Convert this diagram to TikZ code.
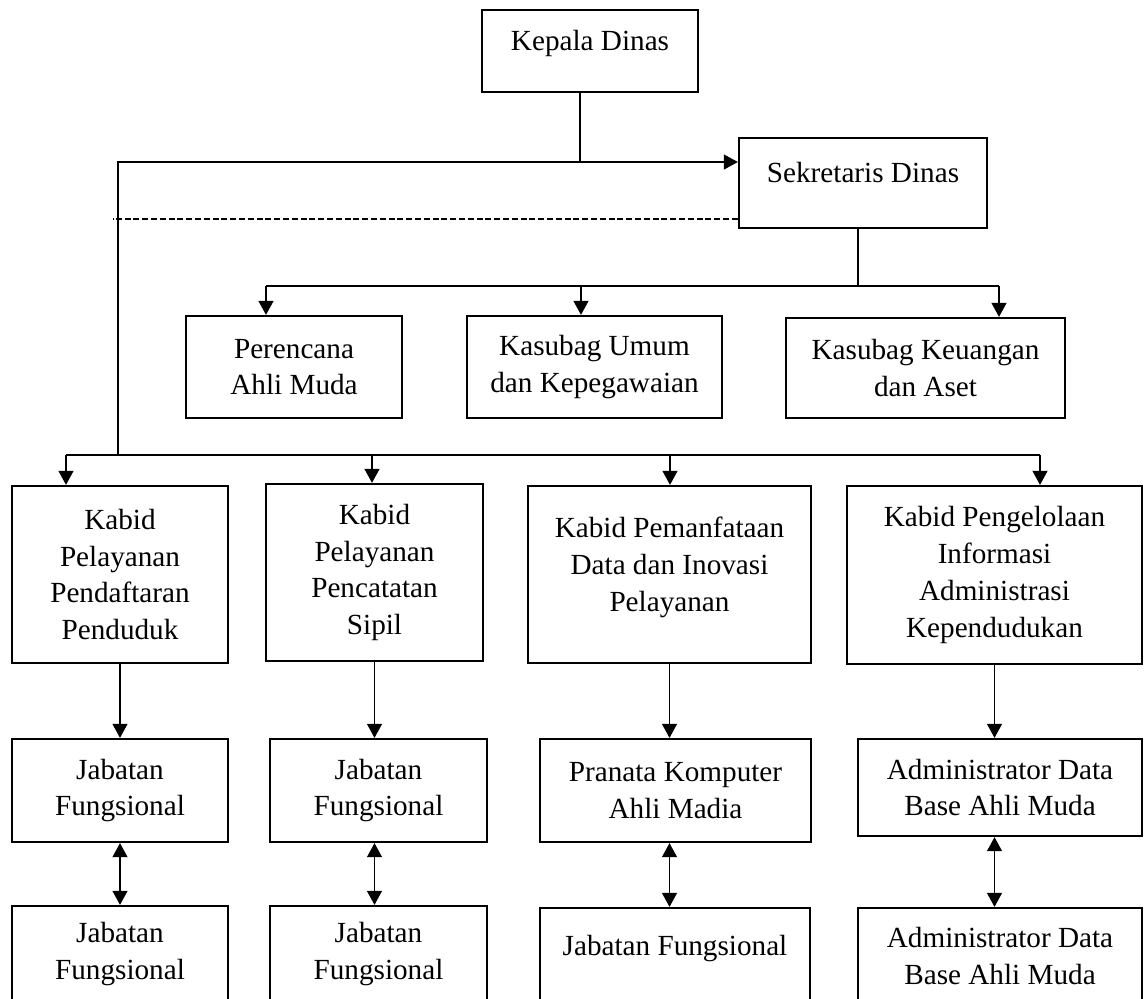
\documentclass[tikz,border=0pt]{standalone}
\usepackage{fontspec}
\setmainfont{Liberation Serif}
\usepackage{tikz}
\usetikzlibrary{arrows.meta}

\begin{document}
\begin{tikzpicture}[x=0.5pt, y=-0.5pt,
    unit/.style={draw, line width=1.15pt, rectangle, align=center, inner sep=2pt,
        font=\fontsize{14.6}{18.4}\selectfont},
    link/.style={line width=0.55pt},
    arrowlink/.style={link, -{Triangle[length=7pt,width=7.5pt]}},
    twoway/.style={link, {Triangle[length=7pt,width=7.5pt]}-{Triangle[length=7pt,width=7.5pt]}},
    staff/.style={line width=1pt, dash pattern=on 3pt off 1.4pt}]

\useasboundingbox (0,0) rectangle (1144,998);
\clip (0,0) rectangle (1144,998);

% pimpinan
\node[unit, minimum width=108pt, minimum height=41pt, text depth=10.6pt] (kadis) at (590,51) {Kepala Dinas};
\node[unit, minimum width=124pt, minimum height=45pt, text depth=11pt] (sekdis) at (863,183) {Sekretaris Dinas};

% sekretariat
\node[unit, minimum width=108pt, minimum height=51pt] (perencana) at (294,367) {Perencana\\Ahli Muda};
\node[unit, minimum width=127.5pt, minimum height=51pt] (umum) at (594.5,367) {Kasubag Umum\\dan Kepegawaian};
\node[unit, minimum width=139.5pt, minimum height=50pt] (keuangan) at (925.5,368) {Kasubag Keuangan\\dan Aset};

% bidang
\node[unit, minimum width=108pt, minimum height=88.5pt] (kabid1) at (120,574.5) {Kabid\\Pelayanan\\Pendaftaran\\Penduduk};
\node[unit, minimum width=108.5pt, minimum height=88.5pt] (kabid2) at (374.5,572.5) {Kabid\\Pelayanan\\Pencatatan\\Sipil};
\node[unit, minimum width=141.5pt, minimum height=88.5pt, text depth=10pt] (kabid3) at (669.5,574.5) {Kabid Pemanfataan\\Data dan Inovasi\\Pelayanan};
\node[unit, minimum width=147.5pt, minimum height=89pt] (kabid4) at (994.5,575) {Kabid Pengelolaan\\Informasi\\Administrasi\\Kependudukan};

% fungsional
\node[unit, minimum width=108pt, minimum height=51.5pt] (jab1) at (120,790.5) {Jabatan\\Fungsional};
\node[unit, minimum width=108.5pt, minimum height=51.5pt] (jab2) at (378.5,790.5) {Jabatan\\Fungsional};
\node[unit, minimum width=135.5pt, minimum height=51.5pt] (pranata) at (675.5,790.5) {Pranata Komputer\\Ahli Madia};
\node[unit, minimum width=142pt, minimum height=48.5pt] (adm1) at (1000,787.5) {Administrator Data\\Base Ahli Muda};

\node[unit, minimum width=108pt, minimum height=48pt] (jab1b) at (120,954) {Jabatan\\Fungsional};
\node[unit, minimum width=108.5pt, minimum height=48pt] (jab2b) at (378.5,954) {Jabatan\\Fungsional};
\node[unit, minimum width=135pt, minimum height=48pt, text depth=10.4pt] (jab3b) at (675,956) {Jabatan Fungsional};
\node[unit, minimum width=142pt, minimum height=48pt] (adm2) at (1000,956) {Administrator Data\\Base Ahli Muda};

% garis komando
\coordinate (hub) at (580,162);
\coordinate (bidbus) at (118,455);
\draw[link] (kadis.south -| hub) -- (hub);
\draw[arrowlink] (hub) -- (hub -| sekdis.west);
\draw[link] (hub) -| (bidbus);

% garis koordinasi
\coordinate (staffend) at (113,219);
\draw[staff] (staffend -| sekdis.west) -- (staffend);

\coordinate (sb) at (858,286);
\coordinate (s1) at (266,286);
\coordinate (s2) at (581,286);
\coordinate (s3) at (999,286);
\draw[link] (sekdis.south -| sb) -- (sb);
\draw[link] (s1) -- (s3);
\foreach \s/\t in {s1/perencana, s2/umum, s3/keuangan}
    \draw[arrowlink] (\s) -- (\s |- \t.north);

\coordinate (b1) at (66,455);
\coordinate (b2) at (372,455);
\coordinate (b3) at (670,455);
\coordinate (b4) at (1040,455);
\draw[link] (b1) -- (b4);
\foreach \i in {1,...,4}
    \draw[arrowlink] (b\i) -- (b\i |- kabid\i.north);

\foreach \k/\j/\b in {kabid1/jab1/jab1b, kabid2/jab2/jab2b, kabid3/pranata/jab3b, kabid4/adm1/adm2} {
    \draw[arrowlink] (\k.south) -- (\k.south |- \j.north);
    \draw[twoway] (\k.south |- \j.south) -- (\k.south |- \b.north);
}
\end{tikzpicture}
\end{document}
